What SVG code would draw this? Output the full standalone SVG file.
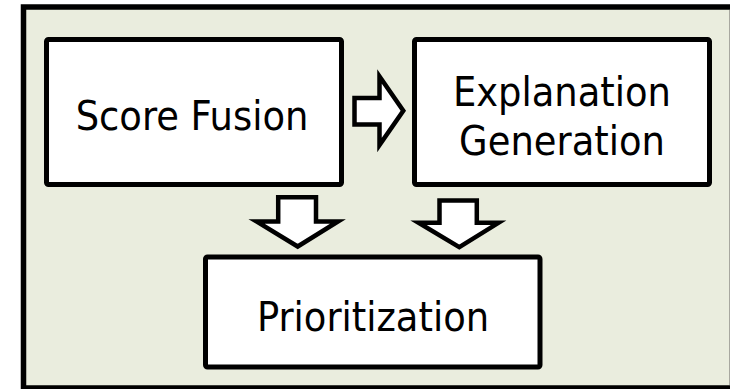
<svg xmlns="http://www.w3.org/2000/svg" width="730" height="389" viewBox="0 0 730 389">
  <style>
    .panel { fill: #EAEDDE; stroke: #000; stroke-width: 5.5; }
    .edge { stroke: #A8A8A0; stroke-width: 1; }
    .box { fill: #FFFFFF; stroke: #000; stroke-width: 5; }
    .label { font-family: "DejaVu Sans Condensed", "DejaVu Sans", sans-serif; font-stretch: condensed; font-size: 41px; fill: #000; text-anchor: middle; }
    .arrow { fill: #FFFFFF; stroke: #000; stroke-width: 4.5; stroke-linejoin: miter; stroke-miterlimit: 10; }
  </style>

  <!-- background panel (right edge runs off the canvas) -->
  <rect class="panel" x="23.5" y="7" width="720" height="381"/>
  <line class="edge" x1="729.5" y1="10" x2="729.5" y2="385"/>

  <g id="score-fusion">
    <rect class="box" x="46.5" y="39.5" width="295" height="145" rx="2"/>
    <text class="label" x="192" y="130">Score Fusion</text>
  </g>

  <g id="explanation-generation">
    <rect class="box" x="414.5" y="39.5" width="295" height="145" rx="2"/>
    <text class="label" x="562" y="106">Explanation</text>
    <text class="label" x="562" y="155">Generation</text>
  </g>

  <g id="prioritization">
    <rect class="box" x="205.5" y="257" width="334.5" height="110" rx="2"/>
    <text class="label" x="373" y="331">Prioritization</text>
  </g>

  <g id="connectors">
    <!-- Score Fusion -> Explanation Generation -->
    <path class="arrow" d="M354.5,98 H379.5 V76.5 L403.3,110.7 L379.5,145 V124.5 H354.5 Z"/>
    <!-- Score Fusion -> Prioritization -->
    <path class="arrow" d="M278.2,197.2 H316 V221.5 H338 L297.7,246.5 L256.5,221.5 H278.2 Z"/>
    <!-- Explanation Generation -> Prioritization -->
    <path class="arrow" d="M439.5,200.5 H476.8 V222.8 H498.5 L459.3,247.2 L418.5,222.8 H439.5 Z"/>
  </g>
</svg>
